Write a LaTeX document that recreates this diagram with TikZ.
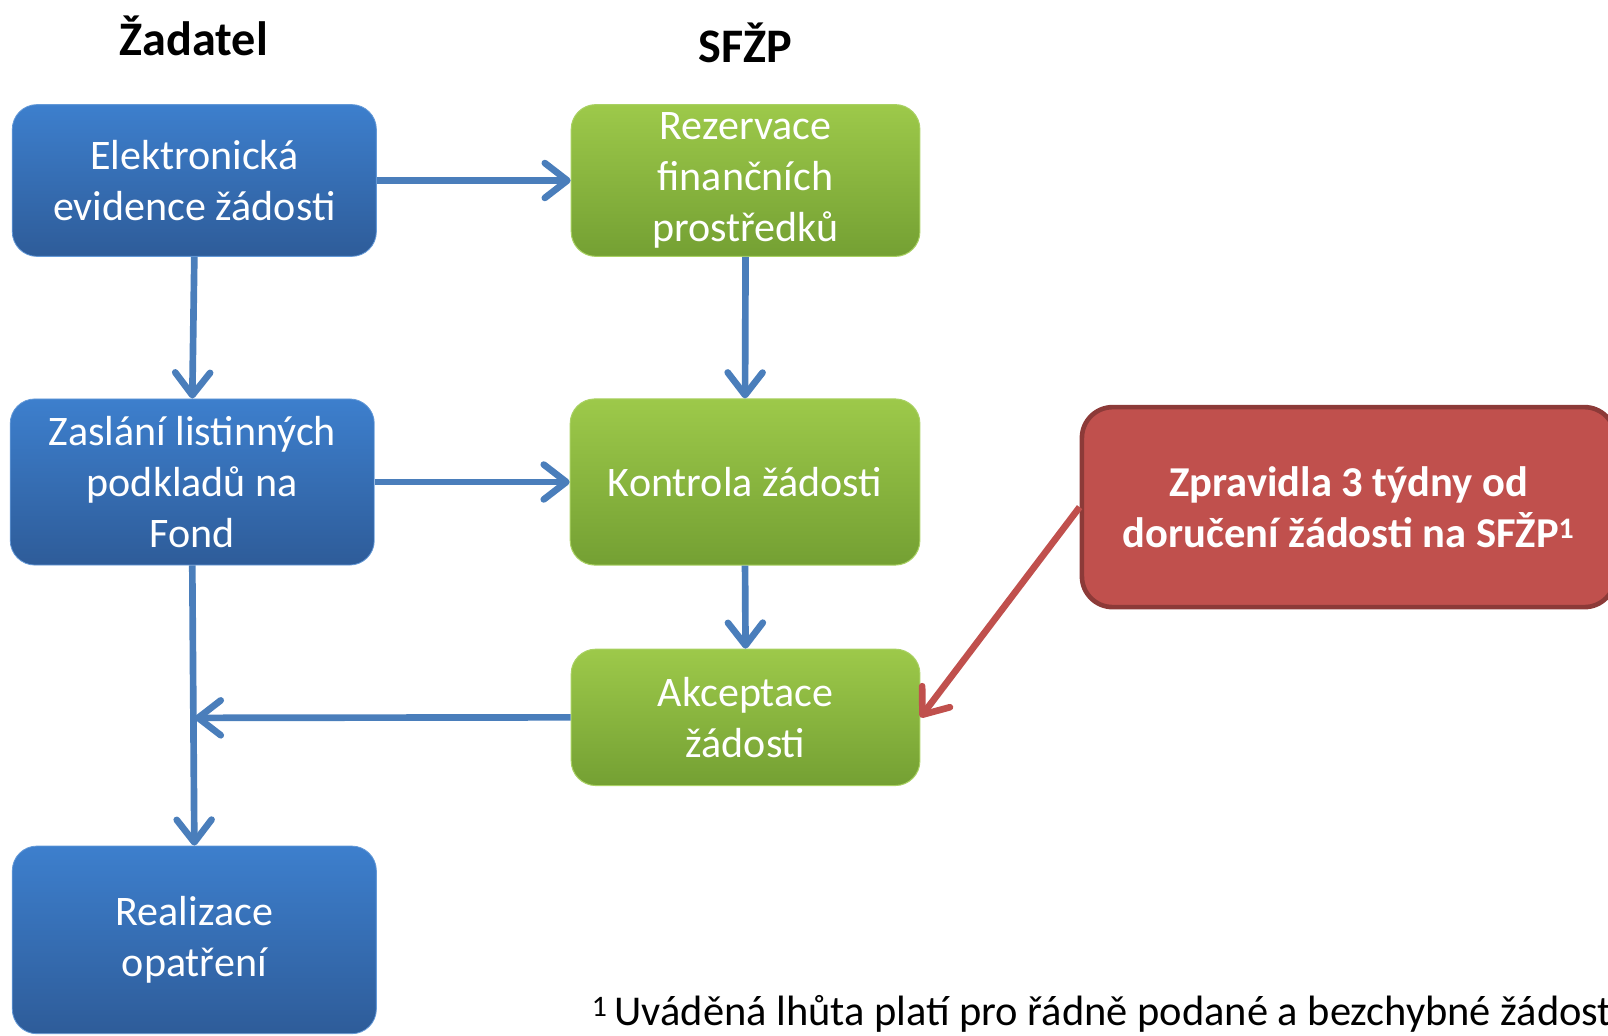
\documentclass[tikz,border=0pt]{standalone}
\usepackage{fontspec}
\setmainfont{Carlito}
\usetikzlibrary{arrows.meta}
\definecolor{bluetop}{HTML}{3D7FCD}
\definecolor{bluebot}{HTML}{2E5C99}
\definecolor{greentop}{HTML}{9DC94A}
\definecolor{greenbot}{HTML}{74A033}
\definecolor{greenborder}{HTML}{A9D163}
\definecolor{lineblue}{HTML}{4A7EBB}
\definecolor{redfill}{HTML}{C0504D}
\definecolor{redborder}{HTML}{8C3A38}
\tikzset{
  boxtext/.style={text=white, align=center, font=\fontsize{41}{50}\selectfont},
  bluebox/.style={rounded corners=24pt, top color=bluetop, bottom color=bluebot, draw=bluetop!80!white, line width=0.8pt, inner sep=0pt, boxtext},
  greenbox/.style={rounded corners=24pt, top color=greentop, bottom color=greenbot, draw=greenborder, line width=1pt, inner sep=0pt, boxtext},
  redbox/.style={rounded corners=30pt, fill=redfill, draw=redborder, line width=4.5pt, inner sep=0pt, text=white, align=center, font=\bfseries\fontsize{41.5}{50}\selectfont},
  tip/.style={-{Straight Barb[length=22pt,width=34pt,line width=6.5pt,round]}},
  flow/.style={draw=lineblue, line width=6.5pt, tip},
  redflow/.style={draw=redfill, line width=6.5pt, tip},
  title/.style={font=\bfseries\fontsize{47}{50}\selectfont, inner sep=0pt},
}
\begin{document}
\begin{tikzpicture}[x=1pt,y=-1pt]
\useasboundingbox (0,0) rectangle (1568,1010.2);
\clip (0,0) rectangle (1568,1010.2);
\node[title] (t1) at (189,35) {Žadatel};
\node[title] (t2) at (727,42) {SFŽP};

\node[bluebox, minimum width=355pt, minimum height=148pt] (ele) at (189.5,176) {Elektronická\\evidence žádosti};
\node[bluebox, minimum width=355pt, minimum height=162pt] (zas) at (187.5,470) {Zaslání listinných\\podkladů na\\Fond};
\node[bluebox, minimum width=355pt, minimum height=183pt] (rea) at (189.5,916.5) {Realizace\\opatření};

\node[greenbox, minimum width=340pt, minimum height=148pt] (rez) at (727,176) {Rezervace\\finančních\\prostředků};
\node[greenbox, minimum width=341pt, minimum height=162pt] (kon) at (726.5,470) {Kontrola žádosti};
\node[greenbox, minimum width=340pt, minimum height=133pt] (akc) at (727,699.5) {Akceptace\\žádosti};

\node[redbox, minimum width=520pt, minimum height=195pt] (red) at (1315,494.5) {Zpravidla 3 týdny od\\doručení žádosti na SFŽP\textsuperscript{1}};

\coordinate (join) at (190,700);

\draw[flow] (ele.east) -- (rez.west);
\draw[flow] (ele.south) -- (zas.north);
\draw[flow] (rez.south) -- (kon.north);
\draw[flow] (zas.east) -- (kon.west);
\draw[flow] (kon.south) -- (akc.north);
\draw[flow] (zas.south) -- (rea.north);
\draw[flow] (akc.west) -- (join);
\draw[redflow] (red.west) -- (akc.east);

\node[anchor=base west, inner sep=0pt, font=\fontsize{41.4}{50}\selectfont] (foot) at (577,1000) {\textsuperscript{1}\,Uváděná lhůta platí pro řádně podané a bezchybné žádosti};
\end{tikzpicture}
\end{document}
